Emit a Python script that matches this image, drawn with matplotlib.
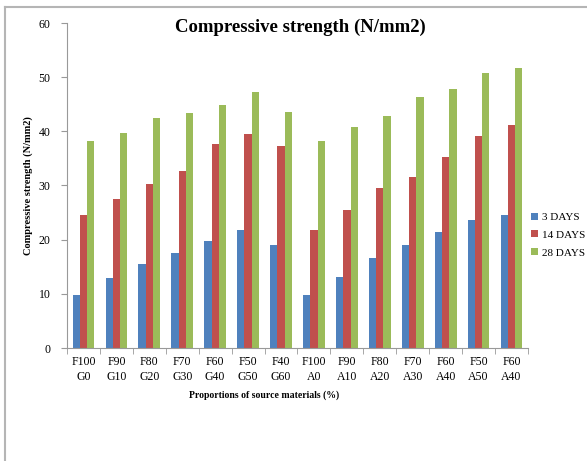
import matplotlib
matplotlib.use("Agg")
import matplotlib.pyplot as plt
from matplotlib.lines import Line2D
import numpy as np

categories = ["F100\nG0", "F90\nG10", "F80\nG20", "F70\nG30", "F60\nG40", "F50\nG50", "F40\nG60",
              "F100\nA0", "F90\nA10", "F80\nA20", "F70\nA30", "F60\nA40", "F50\nA50", "F60\nA40"]
days3 = [9.7, 12.9, 15.6, 17.6, 19.8, 21.7, 19.1, 9.8, 13.1, 16.6, 19.1, 21.5, 23.7, 24.5]
days14 = [24.6, 27.5, 30.3, 32.6, 37.7, 39.5, 37.2, 21.7, 25.5, 29.6, 31.6, 35.3, 39.1, 41.2]
days28 = [38.3, 39.7, 42.4, 43.3, 44.8, 47.3, 43.5, 38.3, 40.8, 42.8, 46.3, 47.8, 50.8, 51.6]
series_names = ["3 DAYS", "14 DAYS", "28 DAYS"]
colors = ["#4F81BD", "#C0504D", "#9BBB59"]

plt.rcParams["font.family"] = ["Liberation Serif", "DejaVu Serif"]

W, H = 587, 461
fig = plt.figure(figsize=(W / 100, H / 100), dpi=100)
ax = fig.add_axes([67 / W, 1 - 348 / H, (528 - 67) / W, (348 - 23) / H])

x = np.arange(len(categories))
bw = 0.22
for i, (vals, name, c) in enumerate(zip([days3, days14, days28], series_names, colors)):
    ax.bar(x + (i - 1) * bw, vals, width=bw, color=c, label=name, linewidth=0)

ax.set_xlim(-0.5, len(categories) - 0.5)
ax.set_ylim(0, 60)
ax.set_yticks(range(0, 61, 10))
ax.set_xticks(x)
ax.set_xticklabels(categories, fontsize=8.5, linespacing=1.3)
ax.set_xticks(np.arange(-0.5, len(categories), 1), minor=True)
ax.tick_params(axis="x", which="major", length=0, pad=6)
ax.tick_params(axis="x", which="minor", length=4, color="#999999")
ax.tick_params(axis="y", length=4, color="#999999", labelsize=8.5, pad=8)
for s in ["top", "right"]:
    ax.spines[s].set_visible(False)
for s in ["left", "bottom"]:
    ax.spines[s].set_color("#999999")
    ax.spines[s].set_linewidth(0.8)

ax.set_ylabel("Compressive strength (N/mm2)", fontsize=7.5, fontweight="bold", labelpad=4)
fig.text(264 / W, 1 - 395 / H, "Proportions of source materials (%)", ha="center", va="center",
         fontsize=7, fontweight="bold")
fig.text(300 / W, 1 - 27 / H, "Compressive strength (N/mm2)", ha="center", va="center",
         fontsize=13.5, fontweight="bold")

ax.legend(loc="center left", bbox_to_anchor=(531 / W, 1 - 235 / H), bbox_transform=fig.transFigure,
          frameon=False, fontsize=8, handlelength=0.6, handleheight=0.6, handletextpad=0.35,
          labelspacing=0.75, borderaxespad=0, borderpad=0)

# outer frame lines (top and left)
fig.add_artist(Line2D([5 / W, 1], [1 - 7 / H, 1 - 7 / H], transform=fig.transFigure,
                      color="#b5b5b5", linewidth=1.5))
fig.add_artist(Line2D([5 / W, 5 / W], [0, 1 - 7 / H], transform=fig.transFigure,
                      color="#b5b5b5", linewidth=1.5))

fig.savefig("out.png", dpi=100)
